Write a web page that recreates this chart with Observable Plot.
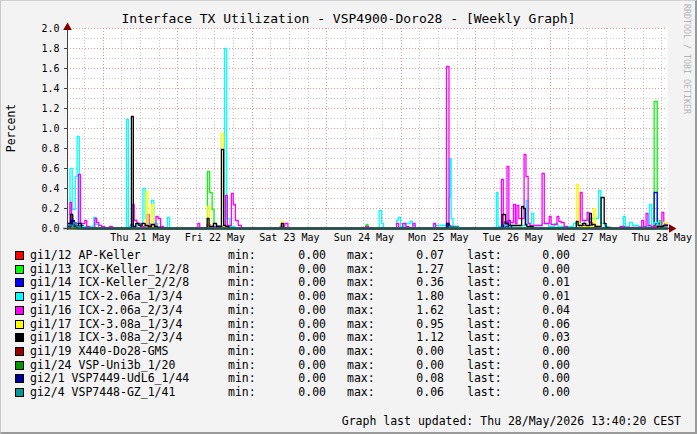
<!DOCTYPE html>
<html><head><meta charset="utf-8">
<script src="https://cdn.jsdelivr.net/npm/d3@7"></script>
<script src="https://cdn.jsdelivr.net/npm/@observablehq/plot@0.6"></script>
<style>
html,body{margin:0;padding:0;background:#fff}
#wrap{position:relative;width:697px;height:434px;background:#f3f3f3;overflow:hidden;font-family:"DejaVu Sans Mono",monospace;color:#000}
#border{position:absolute;left:0;top:0;width:697px;height:434px;box-sizing:border-box;border-top:1px solid #d0d0d0;border-left:1px solid #c8c8c8;border-right:2px solid #9a9a9a;border-bottom:2px solid #9a9a9a;pointer-events:none}
#title{position:absolute;top:11px;left:0;width:697px;text-align:center;font-size:13px;line-height:15px;white-space:pre}
#ylab{position:absolute;left:11px;top:128px;font-size:11.5px;line-height:12px;transform:translate(-50%,-50%) rotate(-90deg);white-space:pre}
#wm{position:absolute;left:682px;top:4px;writing-mode:vertical-rl;font-size:8.3px;color:#b5b5b5;white-space:pre;line-height:9px}
#chart{position:absolute;left:0;top:0}
.row{position:absolute;left:0;height:14px;font-size:11.5px;line-height:14px;white-space:pre}
.row span{position:absolute;top:0}
.sw{position:absolute;left:15px;top:3px;width:7px;height:7px;border:1px solid #000}
#foot{position:absolute;right:16px;top:414px;font-size:11.5px;line-height:14px;white-space:pre}
</style></head>
<body>
<div id="wrap">
  <div id="title">Interface TX Utilization - VSP4900-Doro28 - [Weekly Graph]</div>
  <div id="ylab">Percent</div>
  <div id="wm">RRDTOOL / TOBI OETIKER</div>
  <div id="chart"></div>
  <div id="legend"></div>
  <div id="foot">Graph last updated: Thu 28/May/2026 13:40:20 CEST</div>
  <div id="border"></div>
</div>
<script>
// ---- data: [hours since Wed 20 May 2026 12:30, percent] step breakpoints ----
const seriesNames = ["gi1/12 AP-Keller","gi1/13 ICX-Keller_1/2/8","gi1/14 ICX-Keller_2/2/8","gi1/15 ICX-2.06a_1/3/4","gi1/16 ICX-2.06a_2/3/4","gi1/17 ICX-3.08a_1/3/4","gi1/18 ICX-3.08a_2/3/4","gi1/19 X440-Do28-GMS","gi1/24 VSP-Uni3b_1/20","gi2/1 VSP7449-UdL6_1/44","gi2/4 VSP7448-GZ_1/41"];
const seriesColors = ["#ff0000","#00ff00","#0000ff","#00ffff","#ff00ff","#ffff00","#000000","#990000","#009900","#000099","#009999"];
const minVals  = ["0.00","0.00","0.00","0.00","0.00","0.00","0.00","0.00","0.00","0.00","0.00"];
const maxVals  = ["0.07","1.27","0.36","1.80","1.62","0.95","1.12","0.00","0.00","0.08","0.06"];
const lastVals = ["0.00","0.00","0.01","0.01","0.04","0.06","0.03","0.00","0.00","0.00","0.00"];

const apKeller = [[0,0],[1,0.03],[2,0],[20,0.02],[21,0],[141,0.07],[142,0],[166,0.03],[167,0],[189.5,0.05],[190.2,0]];
const icxKeller1 = [[0,0.02],[2,0],[45.1,0.57],[45.8,0.36],[46.6,0.19],[47.2,0.05],[48,0.02],[49,0],[96.2,0.04],[96.8,0],[189.0,1.27],[190.0,0.02],[190.6,0.08],[191.2,0.02],[192.5,0]];
const icxKeller2 = [[0,0.05],[1.6,0.08],[2.2,0.02],[4,0.03],[5,0],[20.5,0.04],[21,0],[48,0.02],[49,0],[140.5,0.06],[141.2,0.02],[142,0.08],[142.6,0.03],[143,0],[168,0.03],[169,0],[189.0,0.36],[190.0,0.05],[191,0.01]];
const icx206a1 = [[0,0.14],[0.8,0.6],[1.5,0.19],[2.5,0.52],[3.1,0.92],[3.8,0.05],[4.5,0.02],[8.5,0.11],[9.2,0.04],[10,0],[19.0,1.09],[19.6,0.02],[22.5,0.05],[24.3,0.40],[25.0,0.10],[25.5,0.05],[27.1,0.28],[27.8,0.05],[29,0],[32.2,0.11],[32.9,0],[50.6,1.80],[51.3,0.1],[52.3,0.02],[54,0],[100.4,0.18],[101.2,0.05],[101.8,0],[106.0,0.08],[106.6,0.11],[107.3,0.02],[108.5,0.05],[110.4,0.07],[111.1,0.03],[112,0],[117.8,0.05],[118.5,0.03],[121.5,0.03],[122.9,0.31],[123.2,0.70],[123.6,0.10],[124.2,0.02],[125,0],[138.2,0.36],[138.7,0.02],[140,0.05],[141,0.03],[147.8,0.28],[148.4,0.05],[149.5,0.15],[150.2,0.03],[153,0.05],[155,0.02],[157,0.05],[158,0.02],[163,0.05],[166.5,0.08],[168,0.1],[171.1,0.38],[171.8,0.05],[173,0.02],[174,0],[179.1,0.12],[179.7,0.02],[181,0.06],[182,0.03],[184,0.02],[187.5,0.24],[188.2,0.04],[189,0.06],[190.2,0.02],[191,0.05],[192.5,0.01]];
const icx206a2 = [[0,0.03],[0.8,0.26],[1.3,0.05],[3.5,0.54],[4.2,0.05],[5.6,0.08],[6.2,0.02],[7,0],[8.8,0.10],[9.4,0.06],[10.1,0.03],[11,0.02],[12,0],[13.5,0.02],[14.5,0],[20.8,0.24],[21.5,0.08],[22.4,0.05],[23.5,0.02],[25.6,0.14],[26.3,0.03],[28.5,0.12],[29.2,0.1],[30,0.02],[31,0],[42,0.05],[42.6,0],[45,0.04],[46,0.02],[50.9,0.33],[51.5,0.03],[52.8,0.35],[53.4,0.24],[54.1,0.08],[55,0.03],[56,0],[68.5,0.02],[70,0.05],[71,0],[96,0.02],[97,0],[106,0.05],[106.7,0],[108,0.05],[109,0.02],[110,0],[111.3,0.05],[112,0],[118,0.05],[118.6,0],[122.1,1.62],[122.9,0.03],[123.5,0],[139.8,0.49],[140.4,0.05],[141.6,0.62],[142.2,0.06],[143.7,0.24],[144.3,0.05],[144.8,0.23],[145.4,0.1],[147.1,0.74],[147.7,0.52],[148.4,0.05],[149,0.03],[152.9,0.55],[153.6,0.05],[155.2,0.12],[155.8,0.04],[157.7,0.12],[158.3,0.07],[159,0.06],[160,0.02],[161,0],[165.2,0.36],[165.8,0.08],[167.4,0.16],[168,0.06],[169,0.02],[170,0],[178,0.02],[179.5,0.01],[185,0.08],[185.6,0.02],[186.4,0.15],[187,0.03],[188,0.02],[191.5,0.16],[192.1,0.04]];
const icx308a1 = [[0,0],[25.3,0.37],[25.9,0.02],[27.1,0.24],[27.7,0.02],[28.5,0],[45.2,0.22],[45.8,0.02],[46.5,0],[49.6,0.95],[50.3,0.02],[51,0],[68.9,0.07],[69.5,0],[164.0,0.44],[164.6,0.05],[165.3,0.02],[169.5,0.2],[170.1,0.03],[171,0.01],[172,0],[192,0.06]];
const icx308a2 = [[0,0.05],[1.0,0.14],[1.7,0.03],[2.5,0.02],[3.5,0.05],[4.5,0],[20.6,1.12],[21.2,0.02],[22,0.05],[23,0.03],[24,0.05],[25,0.03],[26,0.02],[27,0.04],[28,0.02],[29,0.01],[30,0],[45.0,0.10],[45.6,0.02],[47,0.05],[48,0.02],[49.6,0.79],[50.3,0.03],[51,0.02],[52,0],[68.9,0.05],[69.5,0],[122.1,0.05],[122.8,0],[140.0,0.14],[141.1,0.05],[142,0.03],[146.3,0.22],[146.9,0.2],[147.5,0.04],[148,0.02],[150,0],[163.9,0.07],[164.5,0.03],[166,0.05],[167,0.03],[168.2,0.15],[168.8,0.04],[170,0.02],[171.9,0.31],[172.9,0.05],[173.5,0.01],[175,0],[190,0.02],[192,0.03]];
const x440 = [[0,0]];
const vspUni3b = [[0,0]];
const vsp7449 = [[0,0.02],[1.2,0.08],[1.8,0.03],[3,0],[122.3,0.05],[122.9,0]];
const vsp7448 = [[0,0.03],[2,0.06],[2.8,0.02],[4,0],[123,0.02],[125,0.02],[126,0]];
const seriesData = [apKeller,icxKeller1,icxKeller2,icx206a1,icx206a2,icx308a1,icx308a2,x440,vspUni3b,vsp7449,vsp7448];

const yMajor = [0,0.2,0.4,0.6,0.8,1.0,1.2,1.4,1.6,1.8,2.0];
const yMinor = [0.1,0.3,0.5,0.7,0.9,1.1,1.3,1.5,1.7,1.9];
const dayLabels = ["2026-05-21","2026-05-22","2026-05-23","2026-05-24","2026-05-25","2026-05-26","2026-05-27","2026-05-28"];

// ---- build ----
const start = new Date(Date.UTC(2026,4,20,12,30));
const spanHours = 193.3;
const toDate = h => new Date(+start + h*3600e3);
const end = toDate(spanHours);

const noons = dayLabels.map(d => new Date(d + "T12:00:00Z"));
const midnights = dayLabels.map(d => new Date(d + "T00:00:00Z"));
const minorX = [];
for (const m of [new Date("2026-05-20T00:00:00Z"), ...midnights]) {
  for (const hh of [6,12,18]) { const t = new Date(+m + hh*3600e3); if (t > start && t < end) minorX.push(t); }
}

const lineMarks = seriesData.map((pts, i) => {
  const rows = pts.map(([h,v]) => ({date: toDate(h), value: v}));
  rows.push({date: end, value: pts[pts.length-1][1]});
  return Plot.line(rows, {x:"date", y:"value", curve:"step-after", stroke: seriesColors[i], strokeWidth:1.3});
});

const gridStyle = {strokeDasharray:"1,2", strokeWidth:1, shapeRendering:"crispEdges"};
const axisColor = "#404040";
const chart = Plot.plot({
  width: 697, height: 250,
  marginTop: 28, marginBottom: 22, marginLeft: 67, marginRight: 30,
  x: {type:"utc", domain:[start, end]},
  y: {domain:[0, 2]},
  style: {background:"transparent", fontFamily:"DejaVu Sans Mono", fontSize:"10px", color:"#000", overflow:"visible"},
  marks: [
    Plot.frame({fill:"#ffffff", stroke:"none"}),
    Plot.ruleY(yMinor, {stroke:"#c4c4c4", ...gridStyle}),
    Plot.ruleX(minorX, {stroke:"#c4c4c4", ...gridStyle}),
    Plot.ruleY(yMajor, {stroke:"#ee9090", ...gridStyle}),
    Plot.ruleX(midnights, {stroke:"#ee9090", ...gridStyle}),
    ...lineMarks,
    Plot.axisY({ticks: yMajor, tickFormat: d3.format(".1f"), tickSize: 3, tickPadding: 5, label: null, stroke: axisColor}),
    Plot.axisX({ticks: noons, tickFormat: d3.utcFormat("%a %d %b"), tickSize: 0, tickPadding: 5, label: null}),
    Plot.ruleX([start], {y1: -0.02, y2: 2.04, stroke: axisColor, shapeRendering:"crispEdges"}),
    Plot.ruleY([0], {x1: toDate(-1.2), x2: toDate(spanHours + 1.3), stroke: "#2c4d43", strokeWidth: 1.3}),
    Plot.dot([0], {x: () => start, y: () => 2.0, symbol: "triangle", r: 3.2, fill: "#800000", stroke: "none", dy: -1}),
    Plot.dot([0], {x: () => end, y: () => 0, symbol: "triangle", r: 3.2, fill: "#800000", stroke: "none", rotate: 90, dx: 4})
  ]
});
document.getElementById("chart").appendChild(chart);

// legend rows
const legend = document.getElementById("legend");
seriesNames.forEach((name, i) => {
  const row = document.createElement("div");
  row.className = "row";
  row.style.top = (248 + i * 13.7) + "px";
  row.style.width = "697px";
  row.innerHTML =
    `<div class="sw" style="background:${seriesColors[i]}"></div>` +
    `<span style="left:30px">${name}</span>` +
    `<span style="left:228px">min:</span>` +
    `<span style="right:${697-326}px">${minVals[i]}</span>` +
    `<span style="left:347px">max:</span>` +
    `<span style="right:${697-444}px">${maxVals[i]}</span>` +
    `<span style="left:467px">last:</span>` +
    `<span style="right:${697-570}px">${lastVals[i]}</span>`;
  legend.appendChild(row);
});
</script>
</body></html>
